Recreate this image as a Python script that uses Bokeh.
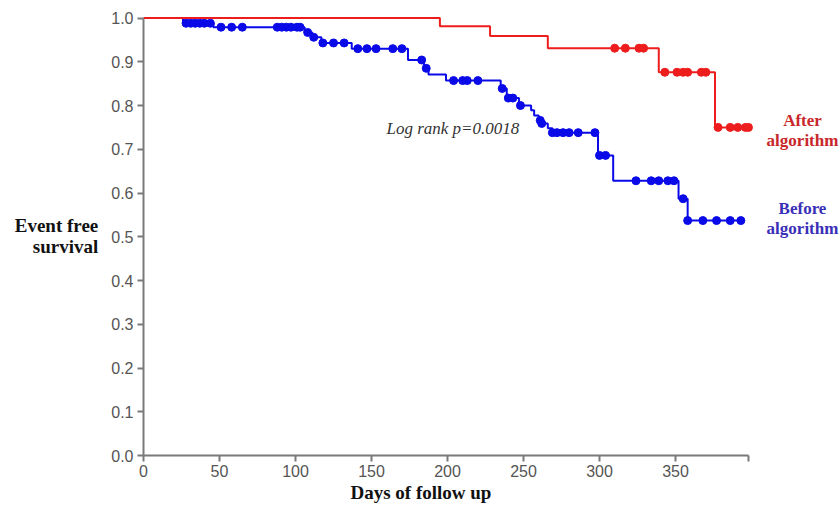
import numpy as np
from bokeh.plotting import figure
from bokeh.models import Range1d, FixedTicker, Label, PrintfTickFormatter, Title
from bokeh.embed import file_html
from bokeh.resources import INLINE

# ---- data ----
after_step_days = [0, 195, 228, 266, 339, 376]
after_step_surv = [1.0, 0.981, 0.959, 0.931, 0.876, 0.750]
after_end_day = 398
after_censor_days = [310, 317, 326, 329, 343, 351, 355, 358, 367, 370,
                     378, 386, 391, 396, 398]

before_step_days = [0, 26, 46, 106, 111, 117, 137, 174, 184.5, 187.5, 199,
                    235, 239, 247, 255, 257, 260, 262, 266, 269, 299, 309,
                    352, 358]
before_step_surv = [1.0, 0.988, 0.979, 0.967, 0.956, 0.943, 0.930, 0.904,
                    0.885, 0.871, 0.857, 0.839, 0.817, 0.800, 0.789, 0.777,
                    0.766, 0.759, 0.748, 0.738, 0.686, 0.628, 0.587, 0.537]
before_end_day = 394
before_censor_days = [28, 31, 34, 37, 40, 44, 51, 58, 65, 88, 91, 94, 97, 101,
                      103, 108, 112, 118, 125, 132, 141, 147, 153, 164, 170,
                      183, 186, 204, 210, 213, 220, 236, 240, 243, 248, 261,
                      262, 269, 272, 276, 280, 286, 297, 300, 304, 324, 334,
                      339, 345, 349, 355, 358, 368, 377, 386, 393]

x_ticks = [0, 50, 100, 150, 200, 250, 300, 350, 398]
y_ticks = [0.0, 0.1, 0.2, 0.3, 0.4, 0.5, 0.6, 0.7, 0.8, 0.9, 1.0]

RED = "#ee1d1d"
BLUE = "#0a0ae8"

W, H = 839, 506
LEFT = 143          # page x of day 0
ZERO_Y = 455        # page y of survival 0
PX_PER_DAY = 1.52
PX_PER_UNIT = 437.5
TOP = 15


def censor_y(step_days, step_surv, days):
    idx = np.searchsorted(np.asarray(step_days, float), np.asarray(days, float), side="right") - 1
    return [step_surv[i] for i in idx]


x_end = (W - LEFT) / PX_PER_DAY
y_end = (ZERO_Y - TOP) / PX_PER_UNIT

p = figure(width=W, height=H, output_backend="svg", toolbar_location=None,
           x_range=Range1d(0, x_end), y_range=Range1d(0, y_end))
p.min_border = 0
p.min_border_left = LEFT
p.min_border_right = 0
p.min_border_top = TOP
p.min_border_bottom = H - ZERO_Y
p.outline_line_color = None
p.xgrid.visible = False
p.ygrid.visible = False
p.background_fill_color = "white"

# Before algorithm (blue)
bx = before_step_days + [before_end_day]
by = before_step_surv + [before_step_surv[-1]]
p.step(bx, by, mode="after", line_color=BLUE, line_width=2)
p.scatter(before_censor_days, censor_y(before_step_days, before_step_surv, before_censor_days),
          size=8, fill_color=BLUE, line_color=BLUE)

# After algorithm (red)
ax = after_step_days + [after_end_day]
ay = after_step_surv + [after_step_surv[-1]]
p.step(ax, ay, mode="after", line_color=RED, line_width=2)
p.scatter(after_censor_days, censor_y(after_step_days, after_step_surv, after_censor_days),
          size=8, fill_color=RED, line_color=RED)

# axes
for axis in (p.xaxis[0], p.yaxis[0]):
    axis.axis_line_color = "#7a7a7a"
    axis.axis_line_width = 2
    axis.major_tick_line_color = "#7a7a7a"
    axis.major_tick_line_width = 2
    axis.major_tick_in = 0
    axis.major_tick_out = 6
    axis.minor_tick_line_color = None
    axis.major_label_text_font = "Liberation Sans"
    axis.major_label_text_font_size = "16px"
    axis.major_label_text_color = "#555555"
    axis.axis_label_text_font = "Liberation Serif"
    axis.axis_label_text_font_style = "bold"
    axis.axis_label_text_font_size = "19px"
    axis.axis_label_text_color = "#111111"

p.xaxis.ticker = FixedTicker(ticks=x_ticks)
p.xaxis.major_label_overrides = {398: ""}
p.xaxis.bounds = (0, 398)
p.xaxis.major_label_standoff = 3

p.yaxis.ticker = FixedTicker(ticks=y_ticks)
p.yaxis.formatter = PrintfTickFormatter(format="%.1f")
p.yaxis.bounds = (0, 1.0)
p.yaxis.major_label_standoff = 4
p.yaxis.axis_label = "Event free\nsurvival"
p.yaxis.axis_label_orientation = "horizontal"
p.yaxis.axis_label_standoff = 10
p.yaxis.axis_label_text_align = "center"
p.yaxis.axis_label_text_line_height = 1.0

# x-axis title, placed under the tick labels
p.add_layout(Title(text="Days of follow up", align="left", offset=350 - LEFT,
                   text_font="Liberation Serif", text_font_style="bold",
                   text_font_size="19px", text_color="#111111", standoff=0), "below")


def px_to_x(px):
    return (px - LEFT) / PX_PER_DAY


def py_to_y(py):
    return (ZERO_Y - py) / PX_PER_UNIT


label_font = "Liberation Serif"
texts = [
    ("After", 802, 120, "#c8282a"),
    ("algorithm", 802, 140, "#c8282a"),
    ("Before", 802, 208, "#3a30b8"),
    ("algorithm", 802, 228, "#3a30b8"),
]
for t, px, py, col in texts:
    p.add_layout(Label(x=px_to_x(px), y=py_to_y(py), text=t, text_align="center",
                       text_baseline="middle", text_font=label_font,
                       text_font_style="bold", text_font_size="17px", text_color=col))

p.add_layout(Label(x=px_to_x(386), y=py_to_y(128), text="Log rank p=0.0018",
                   text_align="left", text_baseline="middle", text_font=label_font,
                   text_font_style="italic", text_font_size="17px", text_color="#333333"))

open("out.html", "w").write(file_html(p, INLINE))
